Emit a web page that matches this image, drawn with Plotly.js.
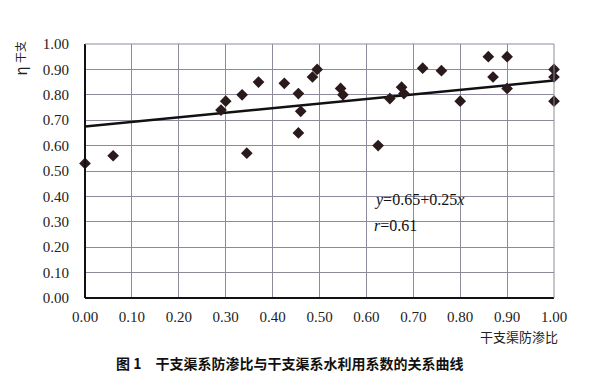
<!DOCTYPE html>
<html><head><meta charset="utf-8">
<script src="https://cdn.plot.ly/plotly-3.0.1.min.js"></script>
<style>html,body{margin:0;padding:0;background:#fff}#c{width:600px;height:388px}</style>
</head><body><div id="c"></div>
<script>
// Data
var ratioX = [0.00,0.06,0.29,0.30,0.335,0.345,0.37,0.425,0.455,0.46,0.455,0.485,0.495,0.545,0.55,0.625,0.65,0.675,0.68,0.72,0.76,0.80,0.86,0.87,0.90,0.90,1.00,1.00,1.00];
var etaY   = [0.53,0.56,0.74,0.775,0.80,0.57,0.85,0.845,0.805,0.735,0.65,0.87,0.90,0.825,0.80,0.60,0.785,0.83,0.805,0.905,0.895,0.775,0.95,0.87,0.95,0.825,0.90,0.87,0.775];
var fitX = [0, 1];
var fitY = [0.675, 0.856];
var xTicks = [0,0.1,0.2,0.3,0.4,0.5,0.6,0.7,0.8,0.9,1.0];
var yTicks = [0,0.1,0.2,0.3,0.4,0.5,0.6,0.7,0.8,0.9,1.0];
var fmt = function(v){return v.toFixed(2);};

var serif = '"Liberation Serif", "Times New Roman", serif';
var cjk = '"Noto Sans CJK SC", sans-serif';
var grid = '#8e8a9c';

var traces = [
  {x: fitX, y: fitY, mode: 'lines', line: {color: '#111', width: 2.5}, hoverinfo: 'skip'},
  {x: ratioX, y: etaY, mode: 'markers', cliponaxis: false,
   marker: {symbol: 'diamond', size: 9, color: '#2b1a1c'}}
];

var layout = {
  width: 600, height: 388,
  margin: {l: 85, r: 46, t: 44, b: 90},
  paper_bgcolor: '#fff', plot_bgcolor: '#fff',
  font: {family: serif},
  showlegend: false,
  xaxis: {range: [0, 1], tickvals: xTicks, ticktext: xTicks.map(fmt),
    showgrid: true, gridcolor: grid, gridwidth: 1, zeroline: false,
    showline: false, ticks: '', ticklen: 0, ticklabelstandoff: 8,
    tickfont: {family: serif, size: 15, color: '#222'}, fixedrange: true},
  yaxis: {range: [0, 1], tickvals: yTicks, ticktext: yTicks.map(fmt),
    showgrid: true, gridcolor: grid, gridwidth: 1, zeroline: false,
    showline: false, ticks: '', ticklen: 0, ticklabelstandoff: 15,
    tickfont: {family: serif, size: 15, color: '#222'}, fixedrange: true},
  shapes: [
    {type: 'rect', xref: 'x', yref: 'y', x0: 0.605, x1: 0.92, y0: 0.245, y1: 0.49,
     fillcolor: '#fff', line: {width: 0}, layer: 'below'},
    {type: 'line', xref: 'paper', yref: 'paper', x0: 0, x1: 0, y0: 0, y1: 1, line: {color: '#111', width: 2}},
    {type: 'line', xref: 'paper', yref: 'paper', x0: 0, x1: 1, y0: 0, y1: 0, line: {color: '#111', width: 2}},
    {type: 'line', xref: 'paper', yref: 'paper', x0: 0, x1: 1, y0: 1, y1: 1, line: {color: grid, width: 1}},
    {type: 'line', xref: 'paper', yref: 'paper', x0: 1, x1: 1, y0: 0, y1: 1, line: {color: grid, width: 1}}
  ],
  annotations: [
    {xref: 'x', yref: 'y', x: 0.612, y: 0.385, xanchor: 'left', yanchor: 'middle', showarrow: false,
     text: '<i>y</i>=0.65+0.25<i>x</i>', font: {family: serif, size: 16, color: '#111'}},
    {xref: 'x', yref: 'y', x: 0.612, y: 0.287, xanchor: 'left', yanchor: 'middle', showarrow: false,
     text: '<i>r</i>=0.61', font: {family: serif, size: 16, color: '#111'}},
    {xref: 'paper', yref: 'paper', x: -0.137, y: 0.895, xanchor: 'center', yanchor: 'middle', showarrow: false,
     textangle: -90, text: 'η', font: {family: cjk, size: 15, color: '#222'}},
    {xref: 'paper', yref: 'paper', x: -0.14, y: 0.97, xanchor: 'center', yanchor: 'middle', showarrow: false,
     textangle: -90, text: '干支', font: {family: cjk, size: 11, color: '#222'}},
    {xref: 'paper', yref: 'paper', x: 1.013, y: -0.15, xanchor: 'right', yanchor: 'middle', showarrow: false,
     text: '干支渠防渗比', font: {family: cjk, size: 13, color: '#222'}},
    {xref: 'paper', yref: 'paper', x: 0.435, y: -0.255, xanchor: 'center', yanchor: 'middle', showarrow: false,
     text: '<b>图 1　干支渠系防渗比与干支渠系水利用系数的关系曲线</b>', font: {family: cjk, size: 14, color: '#111'}}
  ]
};
Plotly.newPlot('c', traces, layout, {displayModeBar: false, staticPlot: true});
</script></body></html>
